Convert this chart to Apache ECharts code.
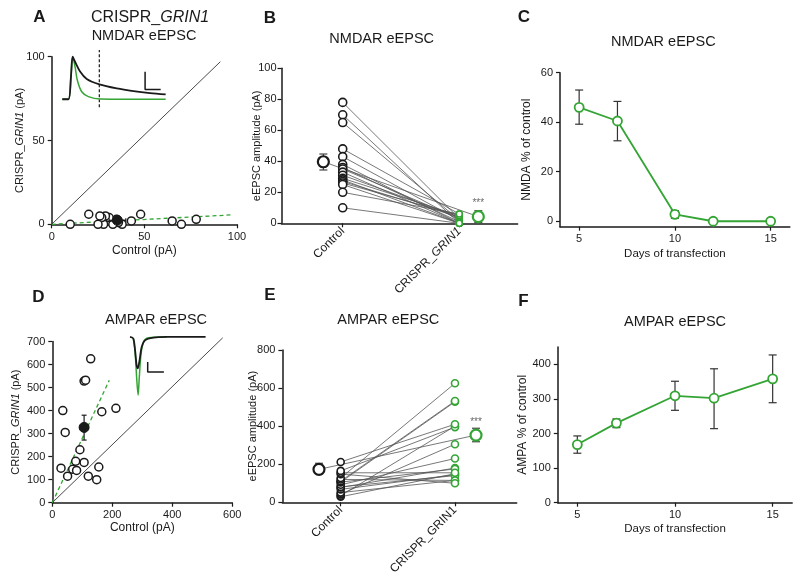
<!DOCTYPE html>
<html><head><meta charset="utf-8">
<script src="https://cdn.jsdelivr.net/npm/echarts@6/dist/echarts.min.js"></script>
<style>html,body{margin:0;padding:0;background:#fff}#c{width:800px;height:580px}</style>
</head><body><div id="c"></div><script>
// ---------- DATA ----------
// NMDAR paired recordings (pA): control vs CRISPR_GRIN1
const nmdaControl = [78,70,65,48,43,38,36,35,33,31,29,28,27,26,25,20,10];
const nmdaCrispr  = [3, 0, 2, 6, 2, 0, 1, 3, 0, 4, 5, 0, 4, 5, 0, 6, 0];
const nmdaMeanXY = [35.4, 2.4];
const nmdaMeanErrX = [31, 40];
const nmdaMeanErrY = [0.8, 4];
const nmdaFit = [[0,0],[97,5.6]];
const nmdaIdentity = [[0,0],[91,97]];
// NMDA inset traces (drawn in panel A data units)
const nmdaTraceX  = [5.7, 9.0, 10.4, 11.3, 12.6, 15.3, 18.9, 25.7, 35.1, 44.1, 53.1, 61.5];
const nmdaTraceCt = [74.6,74.6,88.1,100, 97.0, 91.1, 86.7, 83.5, 81.1, 79.5, 78.3, 77.5];
const nmdaTraceGX = [5.7, 9.0, 10.4, 11.3, 12.6, 13.8, 16.2, 19.8, 26.1, 61.5];
const nmdaTraceGY = [74.6,74.6,88.1,100, 94.1, 86.1, 79.1, 76.2, 74.8, 74.6];
const nmdaMarker = [[25.7,69.8],[25.7,104]];
const nmdaScale = [[50.4,91],[50.4,80.5],[58.8,80.5]];
// Panel B group means
const bGroupX = [1, 2];
const bGroupNames = ['Control', 'CRISPR_GRIN1'];
const bMeanX = [0.834, 2.163];
const bMean = [39.7, 4.3];
const bMeanLo = [34.4, 0.5];
const bMeanHi = [44.7, 8.1];
const bStars = [[2.163, 12.9]];
// AMPAR paired recordings (pA)
const ampaControl = [29,35,43,51,68,78,81,92,106,106,111,120,128,148,155,165,212];
const ampaCrispr  = [150,400,305,115,145,180,140,230,175,528,532,115,625,100,155,395,410];
const ampaMeanXY = [106, 327];
const ampaMeanErrX = [92, 120];
const ampaMeanErrY = [272, 380];
const ampaFit = [[0,0],[190,532]];
const ampaIdentity = [[0,0],[568,716]];
const ampaTraceX  = [259, 270, 276, 281, 285, 290, 298, 309, 337, 381, 511];
const ampaTraceCt = [720, 713, 661, 597, 583, 611, 676, 705, 717, 720, 720];
const ampaTraceGX = [270, 276, 281, 286, 290, 296, 304, 320, 381];
const ampaTraceGY = [713, 655, 546, 467, 546, 648, 698, 716, 720];
const ampaScale = [[318,611],[318,568],[372,568]];
// Panel E group means
const eMeanX = [0.81, 2.184];
const eMean = [173, 353];
const eMeanLo = [149, 318];
const eMeanHi = [205, 389];
const eStars = [[2.184, 423]];
// Time course
const days = [5, 7, 10, 12, 15];
const nmdaPct = [46, 40.5, 2.8, 0, 0];
const nmdaPctLo = [39.2, 32.5, 1.2, null, null];
const nmdaPctHi = [53, 48.4, 4.3, null, null];
const ampaPct = [168, 230, 309, 302, 358];
const ampaPctLo = [143, 217, 267, 214, 289];
const ampaPctHi = [193, 242, 351, 387, 427];
const dayTicks = [5, 10, 15];
const nmdaPctTicks = [0, 20, 40, 60];
const ampaPctTicks = [0, 100, 200, 300, 400];

// ---------- STYLE ----------
const FONT = '"Liberation Sans", Arial, Helvetica, sans-serif';
const GREEN = '#34a534';
const INK = '#1a1a1a';

function axis(o) {
  const base = {
    type: 'value',
    axisLine: { show: true, onZero: false, lineStyle: { color: INK, width: 1.5 } },
    axisTick: { show: true, length: 4, lineStyle: { color: INK, width: 1.2 } },
    axisLabel: { color: INK, fontSize: 11, fontFamily: FONT, margin: 7 },
    splitLine: { show: false },
    nameLocation: 'middle',
    nameMoveOverlap: false,
    nameTextStyle: { color: INK, fontSize: 12, fontFamily: FONT }
  };
  for (const k in o) {
    if (typeof o[k] === 'object' && !Array.isArray(o[k]) && base[k]) base[k] = Object.assign({}, base[k], o[k]);
    else base[k] = o[k];
  }
  return base;
}
const richY = {
  n: { fontSize: 11, fontFamily: FONT, color: INK },
  i: { fontSize: 11, fontFamily: FONT, color: INK, fontStyle: 'italic' }
};

const grids = [
  { left: 51.7, top: 56.7, width: 185.3, height: 167.6 },
  { left: 281.5, top: 68.3, width: 236.1, height: 155 },
  { left: 560, top: 72.7, width: 229.8, height: 154 },
  { left: 52.3, top: 341.5, width: 180, height: 161.2 },
  { left: 282.4, top: 350, width: 234.3, height: 152.3 },
  { left: 557.8, top: 347, width: 234.4, height: 155.7 }
];

const catFormatter = v => (Math.round(v) === 1 ? '{n|' + bGroupNames[0] + '}' : '{n|CRISPR_}{i|GRIN1}');
const catRich = {
  n: { fontSize: 12, fontFamily: FONT, color: INK },
  i: { fontSize: 12, fontFamily: FONT, color: INK, fontStyle: 'italic' }
};

const xAxes = [
  axis({ gridIndex: 0, min: 0, max: 100, interval: 50, name: 'Control (pA)', nameGap: 20 }),
  axis({ gridIndex: 1, min: 0.475, max: 2.5, axisTick: { customValues: bGroupX },
         axisLabel: { customValues: bGroupX, rotate: 45, formatter: catFormatter, rich: catRich, margin: 6 } }),
  axis({ gridIndex: 2, min: 4, max: 16, axisTick: { customValues: dayTicks }, axisLabel: { customValues: dayTicks },
         name: 'Days of transfection', nameGap: 21, nameTextStyle: { fontSize: 11.5 } }),
  axis({ gridIndex: 3, min: 0, max: 600, interval: 200, name: 'Control (pA)', nameGap: 19 }),
  axis({ gridIndex: 4, min: 0.49, max: 2.54, axisTick: { customValues: bGroupX },
         axisLabel: { customValues: bGroupX, rotate: 45, formatter: v => (Math.round(v) === 1 ? '{n|Control}' : '{n|CRISPR_GRIN1}'), rich: catRich, margin: 6 } }),
  axis({ gridIndex: 5, min: 4, max: 16, axisTick: { customValues: dayTicks }, axisLabel: { customValues: dayTicks },
         name: 'Days of transfection', nameGap: 20, nameTextStyle: { fontSize: 11.5 } })
];
const yAxes = [
  axis({ gridIndex: 0, min: 0, max: 100, interval: 50, name: '{n|CRISPR_}{i|GRIN1}{n| (pA)}', nameGap: 26, nameTextStyle: { rich: richY } }),
  axis({ gridIndex: 1, min: 0, max: 100, interval: 20, name: 'eEPSC amplitude (pA)', nameGap: 19.5, nameTextStyle: { fontSize: 11 },
         axisLabel: { margin: 5 } }),
  axis({ gridIndex: 2, min: -2.2, max: 60, axisTick: { customValues: nmdaPctTicks }, axisLabel: { customValues: nmdaPctTicks },
         name: 'NMDA % of control', nameGap: 27 }),
  axis({ gridIndex: 3, min: 0, max: 700, interval: 100, name: '{n|CRISPR_}{i|GRIN1}{n| (pA)}', nameGap: 31, nameTextStyle: { rich: richY } }),
  axis({ gridIndex: 4, min: 0, max: 800, interval: 200, name: 'eEPSC amplitude (pA)', nameGap: 24, nameTextStyle: { fontSize: 11 } }),
  axis({ gridIndex: 5, min: 0, max: 450, axisTick: { customValues: ampaPctTicks }, axisLabel: { customValues: ampaPctTicks },
         name: 'AMPA % of control', nameGap: 29 })
];

// ---------- SERIES HELPERS ----------
const series = [];
function line(gi, data, color, width, extra) {
  series.push(Object.assign({ type: 'line', xAxisIndex: gi, yAxisIndex: gi, data, symbol: 'none', silent: true,
    lineStyle: { color, width }, z: 2, animation: false }, extra || {}));
}
function scatter(gi, data, size, fill, border, bw, z) {
  series.push({ type: 'scatter', xAxisIndex: gi, yAxisIndex: gi, data, symbolSize: size, silent: true, animation: false,
    itemStyle: { color: fill, borderColor: border, borderWidth: bw, opacity: 1 }, z: z || 5 });
}
function errBars(gi, data, color, cap, horizontal, z) {
  series.push({ type: 'custom', xAxisIndex: gi, yAxisIndex: gi, data, silent: true, animation: false, z: z || 4,
    encode: { x: 0, y: 1 },
    renderItem: (p, api) => {
      const x = api.value(0), y = api.value(1), lo = api.value(2), hi = api.value(3);
      const a = horizontal ? api.coord([lo, y]) : api.coord([x, lo]);
      const b = horizontal ? api.coord([hi, y]) : api.coord([x, hi]);
      const st = { stroke: color, lineWidth: 1.2 };
      const ch = [{ type: 'line', shape: { x1: a[0], y1: a[1], x2: b[0], y2: b[1] }, style: st }];
      [a, b].forEach(q => {
        if (horizontal) ch.push({ type: 'line', shape: { x1: q[0], y1: q[1] - cap, x2: q[0], y2: q[1] + cap }, style: st });
        else ch.push({ type: 'line', shape: { x1: q[0] - cap, y1: q[1], x2: q[0] + cap, y2: q[1] }, style: st });
      });
      return { type: 'group', children: ch };
    } });
}
function stars(gi, data) {
  series.push({ type: 'scatter', xAxisIndex: gi, yAxisIndex: gi, data, symbolSize: 1, silent: true, animation: false,
    itemStyle: { color: 'rgba(0,0,0,0)' },
    label: { show: true, position: 'inside', formatter: '***', color: '#444', fontSize: 10, fontFamily: FONT } });
}
const zip = (a, b) => a.map((v, i) => [v, b[i]]);

// ---------- PANEL A ----------
line(0, nmdaIdentity, INK, 0.8, { clip: false });
line(0, nmdaFit, GREEN, 1.3, { lineStyle: { color: GREEN, width: 1.3, type: [4, 3] } });
scatter(0, zip(nmdaControl, nmdaCrispr), 8, '#fff', INK, 1.5);
errBars(0, [[nmdaMeanXY[0], nmdaMeanXY[1], nmdaMeanErrY[0], nmdaMeanErrY[1]]], INK, 2, false, 6);
errBars(0, [[nmdaMeanXY[0], nmdaMeanXY[1], nmdaMeanErrX[0], nmdaMeanErrX[1]]], INK, 2, true, 6);
scatter(0, [nmdaMeanXY], 10, INK, INK, 1, 7);
line(0, zip(nmdaTraceGX, nmdaTraceGY), GREEN, 1.5, { clip: false, smooth: 0.3, z: 3 });
line(0, zip(nmdaTraceX, nmdaTraceCt), INK, 1.8, { clip: false, smooth: 0.3, z: 4 });
line(0, nmdaMarker, INK, 1.2, { clip: false, lineStyle: { color: INK, width: 1.2, type: [3, 2] } });
line(0, nmdaScale, INK, 1.5, { clip: false });

// ---------- PANEL B ----------
line(1, [[bMeanX[0], bMean[0]], [bMeanX[1], bMean[1]]], '#555', 0.8);
nmdaControl.forEach((c, i) => line(1, [[bGroupX[0], c], [bGroupX[1], nmdaCrispr[i]]], '#555', 0.8));
scatter(1, nmdaControl.map(v => [bGroupX[0], v]), 8, '#fff', INK, 1.6);
scatter(1, nmdaCrispr.map(v => [bGroupX[1], v]), 6, '#fff', GREEN, 1.6);
errBars(1, [[bMeanX[0], bMean[0], bMeanLo[0], bMeanHi[0]]], '#444', 4);
errBars(1, [[bMeanX[1], bMean[1], bMeanLo[1], bMeanHi[1]]], '#444', 4);
scatter(1, [[bMeanX[0], bMean[0]]], 11, '#fff', INK, 2.2, 6);
scatter(1, [[bMeanX[1], bMean[1]]], 11, '#fff', GREEN, 2.2, 6);
stars(1, bStars);

// ---------- PANEL C ----------
errBars(2, days.map((d, i) => [d, nmdaPct[i], nmdaPctLo[i], nmdaPctHi[i]]).filter(r => r[2] !== null), '#333', 4);
series.push({ type: 'line', xAxisIndex: 2, yAxisIndex: 2, data: zip(days, nmdaPct), symbol: 'circle', symbolSize: 9,
  animation: false, silent: true, lineStyle: { color: GREEN, width: 1.8 },
  itemStyle: { color: '#fff', borderColor: GREEN, borderWidth: 1.8 }, z: 5 });

// ---------- PANEL D ----------
line(3, ampaIdentity, INK, 0.8, { clip: false });
line(3, ampaFit, GREEN, 1.3, { lineStyle: { color: GREEN, width: 1.3, type: [4, 3] } });
scatter(3, zip(ampaControl, ampaCrispr), 8, '#fff', INK, 1.5);
errBars(3, [[ampaMeanXY[0], ampaMeanXY[1], ampaMeanErrY[0], ampaMeanErrY[1]]], INK, 2.5, false, 6);
errBars(3, [[ampaMeanXY[0], ampaMeanXY[1], ampaMeanErrX[0], ampaMeanErrX[1]]], INK, 2.5, true, 6);
scatter(3, [ampaMeanXY], 10, INK, INK, 1, 7);
line(3, zip(ampaTraceGX, ampaTraceGY), GREEN, 1.5, { clip: false, smooth: 0.3, z: 3 });
line(3, zip(ampaTraceX, ampaTraceCt), INK, 1.8, { clip: false, smooth: 0.3, z: 4 });
line(3, ampaScale, INK, 1.5, { clip: false });

// ---------- PANEL E ----------
line(4, [[eMeanX[0], eMean[0]], [eMeanX[1], eMean[1]]], '#555', 0.8);
ampaControl.forEach((c, i) => line(4, [[bGroupX[0], c], [bGroupX[1], ampaCrispr[i]]], '#555', 0.8));
scatter(4, ampaControl.map(v => [bGroupX[0], v]), 7, '#fff', INK, 1.6);
scatter(4, ampaCrispr.map(v => [bGroupX[1], v]), 7, '#fff', GREEN, 1.6);
errBars(4, [[eMeanX[0], eMean[0], eMeanLo[0], eMeanHi[0]]], '#444', 4);
errBars(4, [[eMeanX[1], eMean[1], eMeanLo[1], eMeanHi[1]]], '#444', 4);
scatter(4, [[eMeanX[0], eMean[0]]], 11, '#fff', INK, 2.2, 6);
scatter(4, [[eMeanX[1], eMean[1]]], 11, '#fff', GREEN, 2.2, 6);
stars(4, eStars);

// ---------- PANEL F ----------
errBars(5, days.map((d, i) => [d, ampaPct[i], ampaPctLo[i], ampaPctHi[i]]), '#333', 4);
series.push({ type: 'line', xAxisIndex: 5, yAxisIndex: 5, data: zip(days, ampaPct), symbol: 'circle', symbolSize: 9,
  animation: false, silent: true, lineStyle: { color: GREEN, width: 1.8 },
  itemStyle: { color: '#fff', borderColor: GREEN, borderWidth: 1.8 }, z: 5 });

// ---------- TEXT ----------
function txt(text, x, y, size, weight, rich) {
  return { type: 'text', x, y, silent: true, style: { text, fill: INK, fontSize: size, fontWeight: weight || 'normal',
    fontFamily: FONT, align: 'center', verticalAlign: 'middle', textAlign: 'center', textVerticalAlign: 'middle', rich } };
}
const graphics = [
  txt('A', 39.3, 17, 17, 'bold'),
  txt('{n|CRISPR_}{i|GRIN1}', 150, 17.5, 16, 'normal', {
    n: { fontSize: 16, fontFamily: FONT, fill: INK, color: INK },
    i: { fontSize: 16, fontFamily: FONT, fill: INK, color: INK, fontStyle: 'italic' } }),
  txt('NMDAR eEPSC', 144, 35.5, 14.5),
  txt('B', 270, 18.5, 17, 'bold'),
  txt('NMDAR eEPSC', 381.7, 38.5, 14.5),
  txt('C', 524, 17, 17, 'bold'),
  txt('NMDAR eEPSC', 663.3, 42, 14.5),
  txt('D', 38.3, 297, 17, 'bold'),
  txt('AMPAR eEPSC', 156, 320, 14.5),
  txt('E', 270, 295.5, 17, 'bold'),
  txt('AMPAR eEPSC', 388.3, 320, 14.5),
  txt('F', 523.5, 301.5, 17, 'bold'),
  txt('AMPAR eEPSC', 675, 322, 14.5)
];

const chart = echarts.init(document.getElementById('c'), null, { renderer: 'canvas' });
chart.setOption({
  backgroundColor: '#fff',
  animation: false,
  grid: grids,
  xAxis: xAxes,
  yAxis: yAxes,
  series,
  graphic: { elements: graphics }
});
</script></body></html>
